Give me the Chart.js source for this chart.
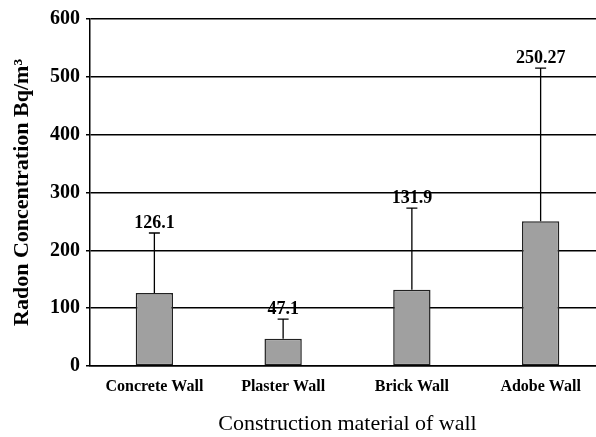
<!DOCTYPE html>
<html>
<head>
<meta charset="utf-8">
<script src="https://cdn.jsdelivr.net/npm/chart.js@4"></script>
<style>
  html, body { margin: 0; padding: 0; background: #fff; overflow: hidden; }
  #wrap { width: 605px; height: 437px; }
</style>
</head>
<body>
<div id="wrap"><canvas id="canvas"></canvas></div>
<script>
'use strict';

const categories = ['Concrete Wall', 'Plaster Wall', 'Brick Wall', 'Adobe Wall'];
const means = [126.1, 47.1, 131.9, 250.27];
const errorTops = [230, 81, 273, 515];
const valueLabels = ['126.1', '47.1', '131.9', '250.27'];

const serif = '"Liberation Serif", "Times New Roman", serif';

// upper error bar + value label above each bar
const errorBars = {
  id: 'errorBars',
  afterDatasetsDraw(chart) {
    const ctx = chart.ctx;
    const y = chart.scales.y;
    const meta = chart.getDatasetMeta(0);
    ctx.save();
    ctx.strokeStyle = '#000';
    ctx.lineWidth = 1.3;
    ctx.fillStyle = '#000';
    ctx.font = 'bold 18px ' + serif;
    ctx.textAlign = 'center';
    ctx.textBaseline = 'alphabetic';
    meta.data.forEach((bar, i) => {
      const top = y.getPixelForValue(errorTops[i]);
      ctx.beginPath();
      ctx.moveTo(bar.x, bar.y);
      ctx.lineTo(bar.x, top);
      ctx.moveTo(bar.x - 5.5, top);
      ctx.lineTo(bar.x + 5.5, top);
      ctx.stroke();
      ctx.fillText(valueLabels[i], bar.x, top - 5);
    });
    ctx.restore();
  },
};

const config = {
  type: 'bar',
  data: {
    labels: categories,
    datasets: [
      {
        data: means,
        backgroundColor: '#a0a0a0',
        borderColor: '#222',
        borderWidth: 1.5,
        borderSkipped: false,
        barPercentage: 0.29,
        categoryPercentage: 1,
      },
    ],
  },
  options: {
    responsive: true,
    maintainAspectRatio: false,
    animation: false,
    layout: {
      padding: { left: 0, right: 0, top: 19, bottom: 0 },
    },
    scales: {
      x: {
        grid: { display: false, drawTicks: false },
        border: { display: true, color: '#000', width: 1.5 },
        ticks: {
          color: '#000',
          padding: 11,
          font: { family: serif, size: 16, weight: 'bold' },
        },
        title: {
          display: true,
          text: 'Construction material of wall',
          color: '#000',
          padding: { top: 14, bottom: 0 },
          font: { family: serif, size: 22 },
        },
        afterFit(scale) { scale.height = 71; },
      },
      y: {
        min: 0,
        max: 600,
        ticks: {
          stepSize: 100,
          color: '#000',
          padding: 6,
          font: { family: serif, size: 20, weight: 'bold' },
        },
        grid: { color: '#000', lineWidth: 1.5, tickLength: 4 },
        border: { display: true, color: '#000', width: 1.5 },
        title: {
          display: true,
          text: 'Radon Concentration Bq/m³',
          color: '#000',
          padding: { top: 9, bottom: 0 },
          font: { family: serif, size: 22, weight: 'bold' },
        },
        afterFit(scale) { scale.width = 90; },
      },
    },
    plugins: {
      legend: { display: false },
      tooltip: { enabled: false },
    },
  },
  plugins: [errorBars],
};

new Chart(document.getElementById('canvas').getContext('2d'), config);
</script>
</body>
</html>
